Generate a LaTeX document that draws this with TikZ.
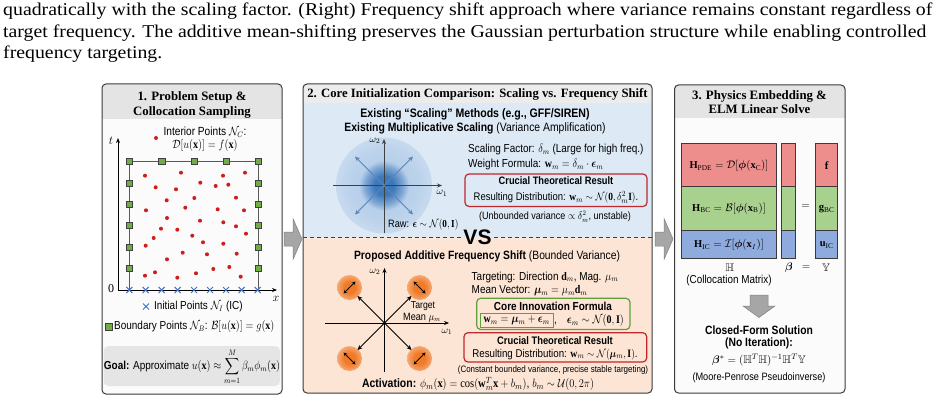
\documentclass[tikz,border=0pt]{standalone}
\usepackage{amsmath,amssymb,bm}
\usepackage{fontspec}
\setmainfont{Liberation Serif}
\newfontfamily\sansf{Liberation Sans}
\usetikzlibrary{arrows.meta}
\newcommand{\cnd}[1]{\scalebox{0.86}[1]{#1}}
\newcommand{\wde}[1]{\scalebox{1.1}[1]{#1}}
\definecolor{pborder}{HTML}{3A3A3A}
\definecolor{hdrgray}{HTML}{E4E4E4}
\definecolor{panelbg}{HTML}{FBFBFB}
\definecolor{bgblue}{HTML}{DDEAF6}
\definecolor{bgorange}{HTML}{FCE5D5}
\definecolor{dotred}{HTML}{CC1F1F}
\definecolor{sqgreen}{HTML}{70AD47}
\definecolor{xblue}{HTML}{4472C4}
\definecolor{arrblue}{HTML}{5A86B8}
\definecolor{boxred}{HTML}{C0272D}
\definecolor{boxgreen}{HTML}{5FA03C}
\definecolor{mred}{HTML}{EE8E8C}
\definecolor{mgreen}{HTML}{A9D18E}
\definecolor{mblue}{HTML}{8FAADC}
\definecolor{blockgray}{HTML}{A6A6A6}
\definecolor{haloblue}{HTML}{B7CFEA}
\definecolor{coreblue}{HTML}{3D78BA}
\definecolor{orangec}{HTML}{F07A28}
\pgfdeclareradialshading{halo}{\pgfpoint{0bp}{0bp}}{color(0bp)=(coreblue); color(5bp)=(coreblue); color(10bp)=(coreblue!45!haloblue); color(13bp)=(haloblue); color(18bp)=(haloblue!88!bgblue); color(28bp)=(haloblue!45!bgblue); color(35bp)=(bgblue); color(50bp)=(bgblue)}
\pgfdeclareradialshading{oblob}{\pgfpoint{0bp}{0bp}}{color(0bp)=(orangec); color(11bp)=(orangec); color(24bp)=(orangec!60!bgorange); color(35bp)=(bgorange); color(50bp)=(bgorange)}
\tikzset{
  sf/.style={font=\sansf\fontsize{#1}{#1}\selectfont, inner sep=0pt},
  sfb/.style={font=\sansf\bfseries\fontsize{#1}{#1}\selectfont, inner sep=0pt},
  mth/.style={font=\fontsize{#1}{#1}\selectfont, inner sep=0pt},
  ptitle/.style={font=\bfseries\fontsize{12.8}{14.5}\selectfont, inner sep=0pt, align=center},
  capt/.style={font=\fontsize{18}{21}\selectfont, inner sep=0pt, anchor=base west},
  panel/.style={draw=pborder, line width=1pt, rounded corners=4pt},
  gsq/.style={draw=black!75, fill=sqgreen, minimum size=6.5pt, inner sep=0pt, line width=0.5pt},
  axisline/.style={line width=0.9pt, -{Stealth[length=5pt,width=4pt]}},
  blockarrow/.style={fill=blockgray, draw=black!50, line width=0.5pt},
  mcell/.style={draw=pborder, line width=0.8pt},
}
\begin{document}
\begin{tikzpicture}[x=1pt,y=-1pt]
\useasboundingbox (0,0) rectangle (950,401);
\fill[white] (0,0) rectangle (950,401);
% caption
\node[capt] (cap1) at (3,16) {\wde{quadratically with the scaling factor. (Right) Frequency shift approach where variance remains constant regardless of}};
\node[capt] (cap2) at (3,37.5) {\wde{target frequency. The additive mean-shifting preserves the Gaussian perturbation structure while enabling controlled}};
\node[capt] (cap3) at (3,58.5) {\wde{frequency targeting.}};

%% ---------------- Panel 1 ----------------
\begin{scope}
\clip[rounded corners=4pt] (102,84) rectangle (282,394);
\fill[panelbg] (102,84) rectangle (282,394);
\fill[hdrgray] (102,84) rectangle (282,119);
\end{scope}
\draw[panel] (102,84) rectangle (282,394);
\node[ptitle] (t1) at (192,105) {1. Problem Setup \&\\Collocation Sampling};
% axes
\coordinate (o1) at (118,290);
\coordinate (tend) at (118,138);
\coordinate (xend) at (277,290);
\draw[axisline] (o1) -- (tend);
\draw[axisline] (o1) -- (xend);
\node[mth=12] (tlab) at (111,141) {$t$};
\node[mth=12] (xlab) at (276,299) {$x$};
\node[mth=12] (zero) at (111,289) {0};
% boundary
\draw[black!65, line width=0.9pt] (129.3,290) -- (129.3,161) -- (258.3,161) -- (258.3,290);
% red dots
\foreach \p in {(145,175.7),(181,172.7),(223,175.7),(245,172.7),(155.7,187.3),(176,189.3),(200.3,182.7),(215.7,186),(228.3,184.7),(166.7,200.3),(194.3,198),(236,197.7),(146,210.3),(185.3,207.7),(217.7,209.3),(244,210.3),(167,218),(200,220.7),(223.3,222.3),(236,226.3),(161,228.7),(177.3,229.7),(153.7,238),(192.3,235.7),(246,233.7),(145.7,245.7),(203,242.3),(223.3,243.7),(182.7,252.7),(207,254.3),(236.7,253.7),(167,259.3),(145,275.7),(155,272.3),(177.3,277.7),(196,273.3),(213.3,269),(229.3,267),(240.7,276.7)}
  \fill[dotred] \p circle (2);
% green squares
\foreach \x [count=\i] in {129.3,161.7,194,226,258.3} \node[gsq] (gt\i) at (\x,161) {};
\foreach \y [count=\i] in {183,204,225,247,268} {
  \node[gsq] (gl\i) at (129.3,\y) {};
  \node[gsq] (gr\i) at (258.3,\y) {};
}
% crosses
\foreach \x in {129.3,145.7,161.7,177.7,194,210,226,241.7,257.7}
  \draw[xblue, line width=1pt] (\x-3,287) -- (\x+3,293) (\x-3,293) -- (\x+3,287);
% labels
\fill[dotred] (156,138) circle (2);
\node[sf=11.8] (ip1) at (205,132) {\cnd{Interior Points $\mathcal{N}_C$:}};
\node[sf=11.8] (ip2) at (205,145.5) {\cnd{$\mathcal{D}[u(\mathbf{x})] = f(\mathbf{x})$}};
\draw[xblue, line width=1pt] (143,303.5) -- (149,309.5) (143,309.5) -- (149,303.5);
\node[sf=11.6, anchor=west] (ipts) at (154,306.5) {\cnd{Initial Points $\mathcal{N}_I$ (IC)}};
\node[gsq] (bsq) at (108.5,326.5) {};
\node[sf=11.6, anchor=west] (bpts) at (114,326.5) {\cnd{Boundary Points $\mathcal{N}_B$: $\mathcal{B}[u(\mathbf{x})] = g(\mathbf{x})$}};
\fill[black!10, rounded corners=5pt] (103.5,346) rectangle (280,386);
\node[sf=11.6] (goal) at (192,366.5) {\cnd{\textbf{Goal:} Approximate $u(\mathbf{x}) \approx \displaystyle\sum_{m=1}^{M} \beta_m \phi_m(\mathbf{x})$}};

%% ---------------- Panel 2 ----------------
\begin{scope}
\clip[rounded corners=4pt] (303,84) rectangle (652,393);
\fill[hdrgray!70!white] (303,84) rectangle (652,103);
\fill[bgblue] (303,103) rectangle (652,237);
\fill[bgorange] (303,237) rectangle (652,393);
\end{scope}
\draw[panel] (303,84) rectangle (652,393);
\node[ptitle, font=\bfseries\fontsize{12.7}{14}\selectfont] (t2) at (477.5,94.5) {2. Core Initialization Comparison: Scaling vs. Frequency Shift};
\draw[black!75, line width=0.9pt, dash pattern=on 4pt off 3pt] (303,237) -- (461,237);
\draw[black!75, line width=0.9pt, dash pattern=on 4pt off 3pt] (494,237) -- (652,237);
\node[sfb=21] (vs) at (477.5,237) {VS};
% top section
\node[sfb=12.3] (h2a) at (475,114) {\cnd{Existing “Scaling” Methods (e.g., GFF/SIREN)}};
\node[sf=12.1] (h2b) at (475,128.5) {\cnd{\textbf{Existing Multiplicative Scaling} (Variance Amplification)}};
\shade[shading=halo] (384,185.5) circle (48);
\coordinate (o2) at (384,185.5);
\draw[axisline, black!75] (384,233) -- (384,139);
\draw[axisline, black!75] (333,185.5) -- (442,185.5);
\foreach \dx/\dy [count=\i] in {-29/-29,29/-29,-29/29,29/29} {
  \coordinate (a\i) at (384+\dx,185.5+\dy);
  \draw[arrblue, line width=1pt, -{Stealth[length=5pt,width=4.5pt]}] (o2) -- (a\i);
}
\node[mth=10] (w2a) at (375,141) {$\omega_2$};
\node[mth=10] (w1a) at (442,193.5) {$\omega_1$};
\node[sf=10.7, anchor=west] (raw) at (388,225) {\cnd{Raw: $\boldsymbol{\epsilon} \sim \mathcal{N}(\mathbf{0}, \mathbf{I})$}};
\node[sf=11.6, anchor=west] (sf) at (468,150) {\cnd{Scaling Factor: $\delta_m$ (Large for high freq.)}};
\node[sf=11.6, anchor=west] (wf) at (468,165) {\cnd{Weight Formula: $\mathbf{w}_m = \delta_m \cdot \boldsymbol{\epsilon}_m$}};
\draw[boxred, line width=1.2pt, rounded corners=4pt] (465,174) rectangle (647,206.5);
\node[sfb=10.8] (cr1) at (556,181) {\cnd{Crucial Theoretical Result}};
\node[sf=11] (cr2) at (556,197.5) {\cnd{Resulting Distribution: $\mathbf{w}_m \sim \mathcal{N}(\mathbf{0}, \delta_m^2\mathbf{I})$.}};
\node[sf=10.5] (ub) at (555,216.5) {\cnd{(Unbounded variance $\propto \delta_m^2$, unstable)}};
% bottom section
\node[sf=12] (h2c) at (487,256) {\cnd{\textbf{Proposed Additive Frequency Shift} (Bounded Variance)}};
\foreach \cx/\cy [count=\i] in {349.5/287.5,419.5/287.5,349.5/358.5,419.5/358.5}
  \shade[shading=oblob] (\cx,\cy) circle (12.5);
\coordinate (o3) at (384.5,323);
\draw[axisline] (384.5,372) -- (384.5,268);
\draw[axisline] (325,323) -- (449,323);
\foreach \dx/\dy [count=\i] in {-27/-27,27/-27,-27/27,27/27} {
  \coordinate (b\i) at (384.5+\dx,323+\dy);
  \draw[black, line width=0.8pt, -{Stealth[length=5pt,width=4.5pt]}] (o3) -- (b\i);
}
\fill (o3) circle (1.4);
\foreach \cx/\cy/\ux/\uy in {349.5/287.5/1/-1,419.5/287.5/1/1,349.5/358.5/1/1,419.5/358.5/1/-1}
  \draw[black, line width=0.8pt, {Stealth[length=3.5pt,width=3.5pt]}-{Stealth[length=3.5pt,width=3.5pt]}] (\cx-6*\ux,\cy-6*\uy) -- (\cx+6*\ux,\cy+6*\uy);
\node[mth=10] (w2b) at (375,272) {$\omega_2$};
\node[mth=10] (w1b) at (447,332) {$\omega_1$};
\node[sf=10.1] (tg1) at (423,306) {\cnd{Target}};
\node[sf=10.6] (tg2) at (422,317.5) {\cnd{Mean $\mu_m$}};
\node[sf=11.6, anchor=west] (tgt) at (471.5,277) {\cnd{Targeting: Direction $\mathbf{d}_m$, Mag. $\mu_m$}};
\node[sf=11.6, anchor=west] (mv) at (471.5,291) {\cnd{Mean Vector: $\boldsymbol{\mu}_m = \mu_m\mathbf{d}_m$}};
\draw[boxgreen, line width=1.2pt, rounded corners=4pt] (476.7,298.3) rectangle (630,329.5);
\node[sfb=11.6] (ci1) at (553,306.5) {\cnd{Core Innovation Formula}};
\draw[boxgreen, line width=0.9pt] (480,313.3) rectangle (553.3,327.5);
\node[sf=11.6] (ci2) at (516.7,320.5) {\cnd{$\mathbf{w}_m = \boldsymbol{\mu}_m + \boldsymbol{\epsilon}_m$}};
\node[sf=11.6, anchor=west] (ci3) at (554,320.5) {\cnd{,\quad $\boldsymbol{\epsilon}_m \sim \mathcal{N}(\mathbf{0}, \mathbf{I})$}};
\draw[boxred, line width=1.2pt, rounded corners=4pt] (464,332.7) rectangle (646.7,362);
\node[sfb=10.9] (cr3) at (555,340.5) {\cnd{Crucial Theoretical Result}};
\node[sf=11.3] (cr4) at (555,354.5) {\cnd{Resulting Distribution: $\mathbf{w}_m \sim \mathcal{N}(\boldsymbol{\mu}_m, \mathbf{I})$.}};
\node[sf=9.3] (cb) at (553,370.5) {\cnd{(Constant bounded variance, precise stable targeting)}};
\node[sf=12.2] (act) at (478,384) {\cnd{\textbf{Activation:} $\phi_m(\mathbf{x}) = \cos(\mathbf{w}_m^T\mathbf{x} + b_m)$, $b_m \sim \mathcal{U}(0, 2\pi)$}};

%% ---------------- block arrows ----------------
\draw[blockarrow] (284,232) -- (293,232) -- (293,218.5) -- (302,239) -- (293,259.5) -- (293,246) -- (284,246) -- cycle;
\draw[blockarrow] (655,232) -- (664,232) -- (664,218.5) -- (673,239) -- (664,259.5) -- (664,246) -- (655,246) -- cycle;

%% ---------------- Panel 3 ----------------
\begin{scope}
\clip[rounded corners=4pt] (674.5,85) rectangle (845,393);
\fill[panelbg] (674.5,85) rectangle (845,393);
\fill[hdrgray] (674.5,85) rectangle (845,118);
\end{scope}
\draw[panel] (674.5,85) rectangle (845,393);
\node[ptitle] (t3) at (759.5,102) {3. Physics Embedding \&\\ELM Linear Solve};
% matrix
\draw[mcell, fill=mred] (681,143.3) rectangle (776.7,186.7);
\draw[mcell, fill=mgreen] (681,186.7) rectangle (776.7,230);
\draw[mcell, fill=mblue] (681,230) rectangle (776.7,258.3);
\draw[mcell, fill=mred] (781.7,143.3) rectangle (795.7,186.7);
\draw[mcell, fill=mgreen] (781.7,186.7) rectangle (795.7,230);
\draw[mcell, fill=mblue] (781.7,230) rectangle (795.7,258.3);
\draw[mcell, fill=mred] (815.7,143.3) rectangle (837.7,186.7);
\draw[mcell, fill=mgreen] (815.7,186.7) rectangle (837.7,230);
\draw[mcell, fill=mblue] (815.7,230) rectangle (837.7,258.3);
\node[mth=10.5] (hpde) at (729,166) {$\mathbf{H}_{\mathrm{PDE}} = \mathcal{D}[\boldsymbol{\phi}(\mathbf{x}_{\mathrm{C}})]$};
\node[mth=10.5] (hbc) at (729,208.5) {$\mathbf{H}_{\mathrm{BC}} = \mathcal{B}[\boldsymbol{\phi}(\mathbf{x}_{\mathrm{B}})]$};
\node[mth=10.5] (hic) at (729,245) {$\mathbf{H}_{\mathrm{IC}} = \mathcal{I}[\boldsymbol{\phi}(\mathbf{x}_{I})]$};
\node[mth=11] (eq1) at (805.7,206) {$=$};
\node[mth=11] (yf) at (826.7,166) {$\mathbf{f}$};
\node[mth=10.5] (yg) at (826.7,209) {$\mathbf{g}_{\mathrm{BC}}$};
\node[mth=10.5] (yu) at (826.7,245) {$\mathbf{u}_{\mathrm{IC}}$};
\node[mth=11] (hh) at (730,267.5) {$\mathbb{H}$};
\node[mth=11] (bb) at (789,267.5) {$\boldsymbol{\beta}$};
\node[mth=11] (eq2) at (806,267.5) {$=$};
\node[mth=11] (yy) at (826,267.5) {$\mathbb{Y}$};
\node[sf=11.5] (cm) at (729,281) {\cnd{(Collocation Matrix)}};
\draw[blockarrow] (750,295) -- (768,295) -- (768,306) -- (775,306) -- (759,317.5) -- (743,306) -- (750,306) -- cycle;
\node[sfb=12] (cf1) at (759,330) {\cnd{Closed-Form Solution}};
\node[sfb=12] (cf2) at (759,343.5) {\cnd{(No Iteration):}};
\node[mth=11] (cf3) at (759,360) {$\boldsymbol{\beta}^{*} = (\mathbb{H}^T\mathbb{H})^{-1}\mathbb{H}^T\mathbb{Y}$};
\node[sf=10.7] (mp) at (759,378) {\cnd{(Moore-Penrose Pseudoinverse)}};
\end{tikzpicture}
\end{document}
